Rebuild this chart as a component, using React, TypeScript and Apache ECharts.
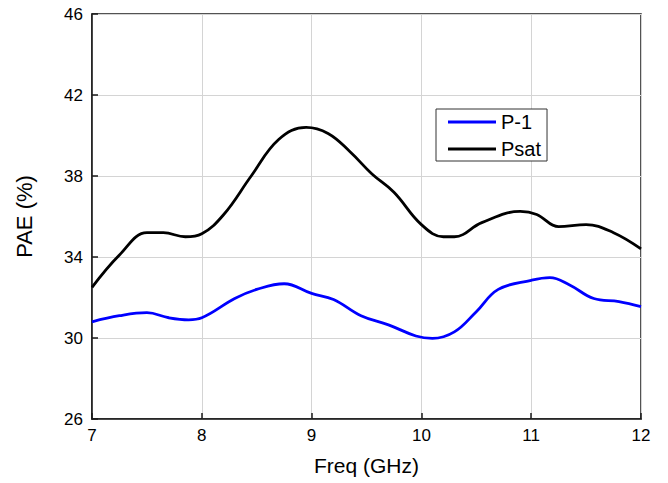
import React, { useEffect, useRef } from "react";
import * as echarts from "echarts";

const psatX = [7.0, 7.25, 7.5, 7.65, 7.85, 8.0, 8.2, 8.45, 8.7, 8.95, 9.15, 9.35, 9.55, 9.75, 10.0, 10.2, 10.3, 10.55, 10.9, 11.05, 11.25, 11.5, 11.75, 12.0];
const psatY = [32.5, 34.1, 35.2, 35.2, 35.0, 35.15, 36.1, 38.0, 39.8, 40.4, 40.1, 39.2, 38.1, 37.2, 35.6, 35.0, 35.0, 35.7, 36.25, 36.1, 35.5, 35.6, 35.2, 34.4];
const p1X = [7.0, 7.25, 7.5, 7.7, 7.88, 8.0, 8.3, 8.5, 8.75, 9.0, 9.2, 9.45, 9.7, 9.95, 10.1, 10.3, 10.5, 10.7, 11.0, 11.17, 11.35, 11.57, 11.8, 12.0];
const p1Y = [30.8, 31.1, 31.25, 31.0, 30.9, 31.0, 31.95, 32.4, 32.68, 32.2, 31.9, 31.1, 30.65, 30.1, 29.98, 30.3, 31.3, 32.4, 32.85, 32.98, 32.62, 31.95, 31.8, 31.55];
const seriesNames = ["P-1", "Psat"];
const xTitle = "Freq (GHz)";
const yTitle = "PAE (%)";

export default function App() {
  const ref = useRef<HTMLDivElement>(null);
  useEffect(() => {
    if (!ref.current) return;
    const chart = echarts.init(ref.current, undefined, { renderer: "svg" });
    const font = "Liberation Sans, Arial, sans-serif";
    chart.setOption({
      animation: false,
      backgroundColor: "#fff",
      textStyle: { fontFamily: font },
      grid: {
        left: 92,
        top: 14,
        right: 27,
        bottom: 64,
        show: true,
        borderColor: "#1a1a1a",
        borderWidth: 1.5,
        containLabel: false,
        outerBoundsMode: "none",
      },
      legend: {
        orient: "vertical",
        left: 436,
        top: 109,
        data: seriesNames,
        icon: "rect",
        itemWidth: 48,
        itemHeight: 3,
        itemGap: 7,
        padding: [3, 6, 2, 12],
        borderColor: "#333",
        borderWidth: 1,
        backgroundColor: "#fff",
        textStyle: { fontSize: 20, color: "#000", fontFamily: font },
      },
      xAxis: {
        type: "value",
        min: 7,
        max: 12,
        interval: 1,
        name: xTitle,
        nameLocation: "middle",
        nameGap: 36,
        nameTextStyle: { fontSize: 21, color: "#000", fontFamily: font },
        axisLine: { show: true, lineStyle: { color: "#1a1a1a", width: 1.5 } },
        axisTick: { show: true, inside: true, length: 6, lineStyle: { color: "#1a1a1a", width: 1.5 } },
        axisLabel: { fontSize: 17, color: "#000", margin: 8, fontFamily: font },
        splitLine: { show: true, lineStyle: { color: "#d4d4d4", width: 1 } },
      },
      yAxis: {
        type: "value",
        min: 26,
        max: 46,
        interval: 4,
        name: yTitle,
        nameLocation: "middle",
        nameGap: 57,
        nameTextStyle: { fontSize: 22, color: "#000", fontFamily: font },
        axisLine: { show: true, lineStyle: { color: "#1a1a1a", width: 1.5 } },
        axisTick: { show: true, inside: true, length: 6, lineStyle: { color: "#1a1a1a", width: 1.5 } },
        axisLabel: { fontSize: 17, color: "#000", margin: 9, fontFamily: font },
        splitLine: { show: true, lineStyle: { color: "#d4d4d4", width: 1 } },
      },
      series: [
        {
          name: seriesNames[0],
          type: "line",
          smooth: 0.4,
          symbol: "none",
          color: "#0000ff",
          lineStyle: { color: "#0000ff", width: 2.8 },
          data: p1X.map((x, i) => [x, p1Y[i]]),
        },
        {
          name: seriesNames[1],
          type: "line",
          smooth: 0.4,
          symbol: "none",
          color: "#000",
          lineStyle: { color: "#000", width: 2.8 },
          data: psatX.map((x, i) => [x, psatY[i]]),
        },
      ],
    });
    return () => chart.dispose();
  }, []);
  return (
    <div
      ref={ref}
      style={{ position: "fixed", left: 0, top: 0, width: 668, height: 483 }}
    />
  );
}
